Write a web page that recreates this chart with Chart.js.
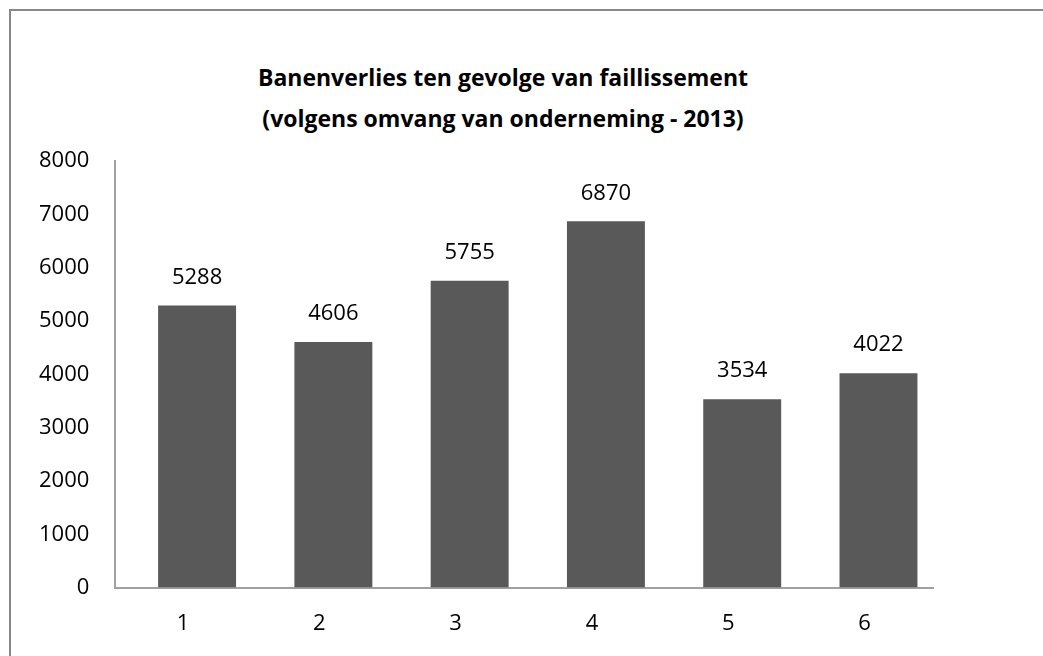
<!DOCTYPE html>
<html>
<head>
<meta charset="utf-8">
<script src="https://cdn.jsdelivr.net/npm/chart.js@4"></script>
<style>
  html, body { margin: 0; padding: 0; background: #fff; }
  #wrap { position: relative; width: 1043px; height: 656px; overflow: hidden; }
  #frame { position: absolute; left: 9px; top: 9px; width: 1100px; height: 700px;
           border-left: 2px solid #888; border-top: 2px solid #888; }
  #title { position: absolute; left: 0; top: 57px; width: 1006px; text-align: center;
           font-family: "Open Sans"; font-weight: bold; font-size: 23px; line-height: 41px; color: #000; }
  canvas { position: absolute; left: 0; top: 0; }
</style>
</head>
<body>
<div id="wrap">
  <div id="frame"></div>
  <div id="title">Banenverlies ten gevolge van faillissement<br>(volgens omvang van onderneming - 2013)</div>
  <canvas id="chart" width="1043" height="656"></canvas>
</div>
<script>
const categories = ["1", "2", "3", "4", "5", "6"];
const values = [5288, 4606, 5755, 6870, 3534, 4022];
const yMin = 0;
const yMax = 8000;
const yStep = 1000;

const tickFont = { family: "Open Sans", size: 22 };
const axisColor = "#a0a0a0";

// value labels above the bars (no datalabels plugin available)
const barValues = {
    id: "barValues",
    afterDatasetsDraw(chart) {
        const ctx = chart.ctx;
        const meta = chart.getDatasetMeta(0);
        ctx.save();
        ctx.font = '22px "Open Sans"';
        ctx.fillStyle = "#000";
        ctx.textAlign = "center";
        ctx.textBaseline = "middle";
        meta.data.forEach(function (bar, i) {
            ctx.fillText(String(values[i]), bar.x, bar.y - 28);
        });
        ctx.restore();
    }
};

document.addEventListener("DOMContentLoaded", function () {
    const canvas = document.getElementById("chart");

    new Chart(canvas.getContext("2d"), {
        type: "bar",
        data: {
            datasets: [{
                data: values.map(function (v, i) { return { x: i, y: v }; }),
                backgroundColor: "#595959",
                borderWidth: 0,
                barPercentage: 0.572,
                categoryPercentage: 1
            }]
        },
        options: {
            responsive: false,
            animation: false,
            layout: { padding: { left: 13, right: 110, top: 161, bottom: -4 } },
            plugins: {
                legend: { display: false },
                tooltip: { enabled: false },
                title: { display: false }
            },
            scales: {
                x: {
                    type: "linear",
                    min: -0.6,
                    max: 5.4,
                    offset: false,
                    grid: { display: false, drawTicks: false },
                    border: { color: axisColor, width: 2 },
                    afterBuildTicks: function (scale) {
                        scale.ticks = categories.map(function (c, i) { return { value: i }; });
                    },
                    ticks: {
                        autoSkip: false,
                        maxRotation: 0,
                        labelOffset: -14,
                        padding: 23,
                        color: "#000",
                        font: tickFont,
                        callback: function (v, i) {
                            return categories[i];
                        }
                    }
                },
                y: {
                    min: yMin,
                    max: yMax,
                    grid: { display: false, drawTicks: false },
                    border: { color: axisColor, width: 2 },
                    ticks: {
                        stepSize: yStep,
                        padding: 26,
                        color: "#000",
                        font: tickFont,
                        callback: function (v) { return String(v); }
                    }
                }
            }
        },
        plugins: [barValues]
    });
});
</script>
</body>
</html>
